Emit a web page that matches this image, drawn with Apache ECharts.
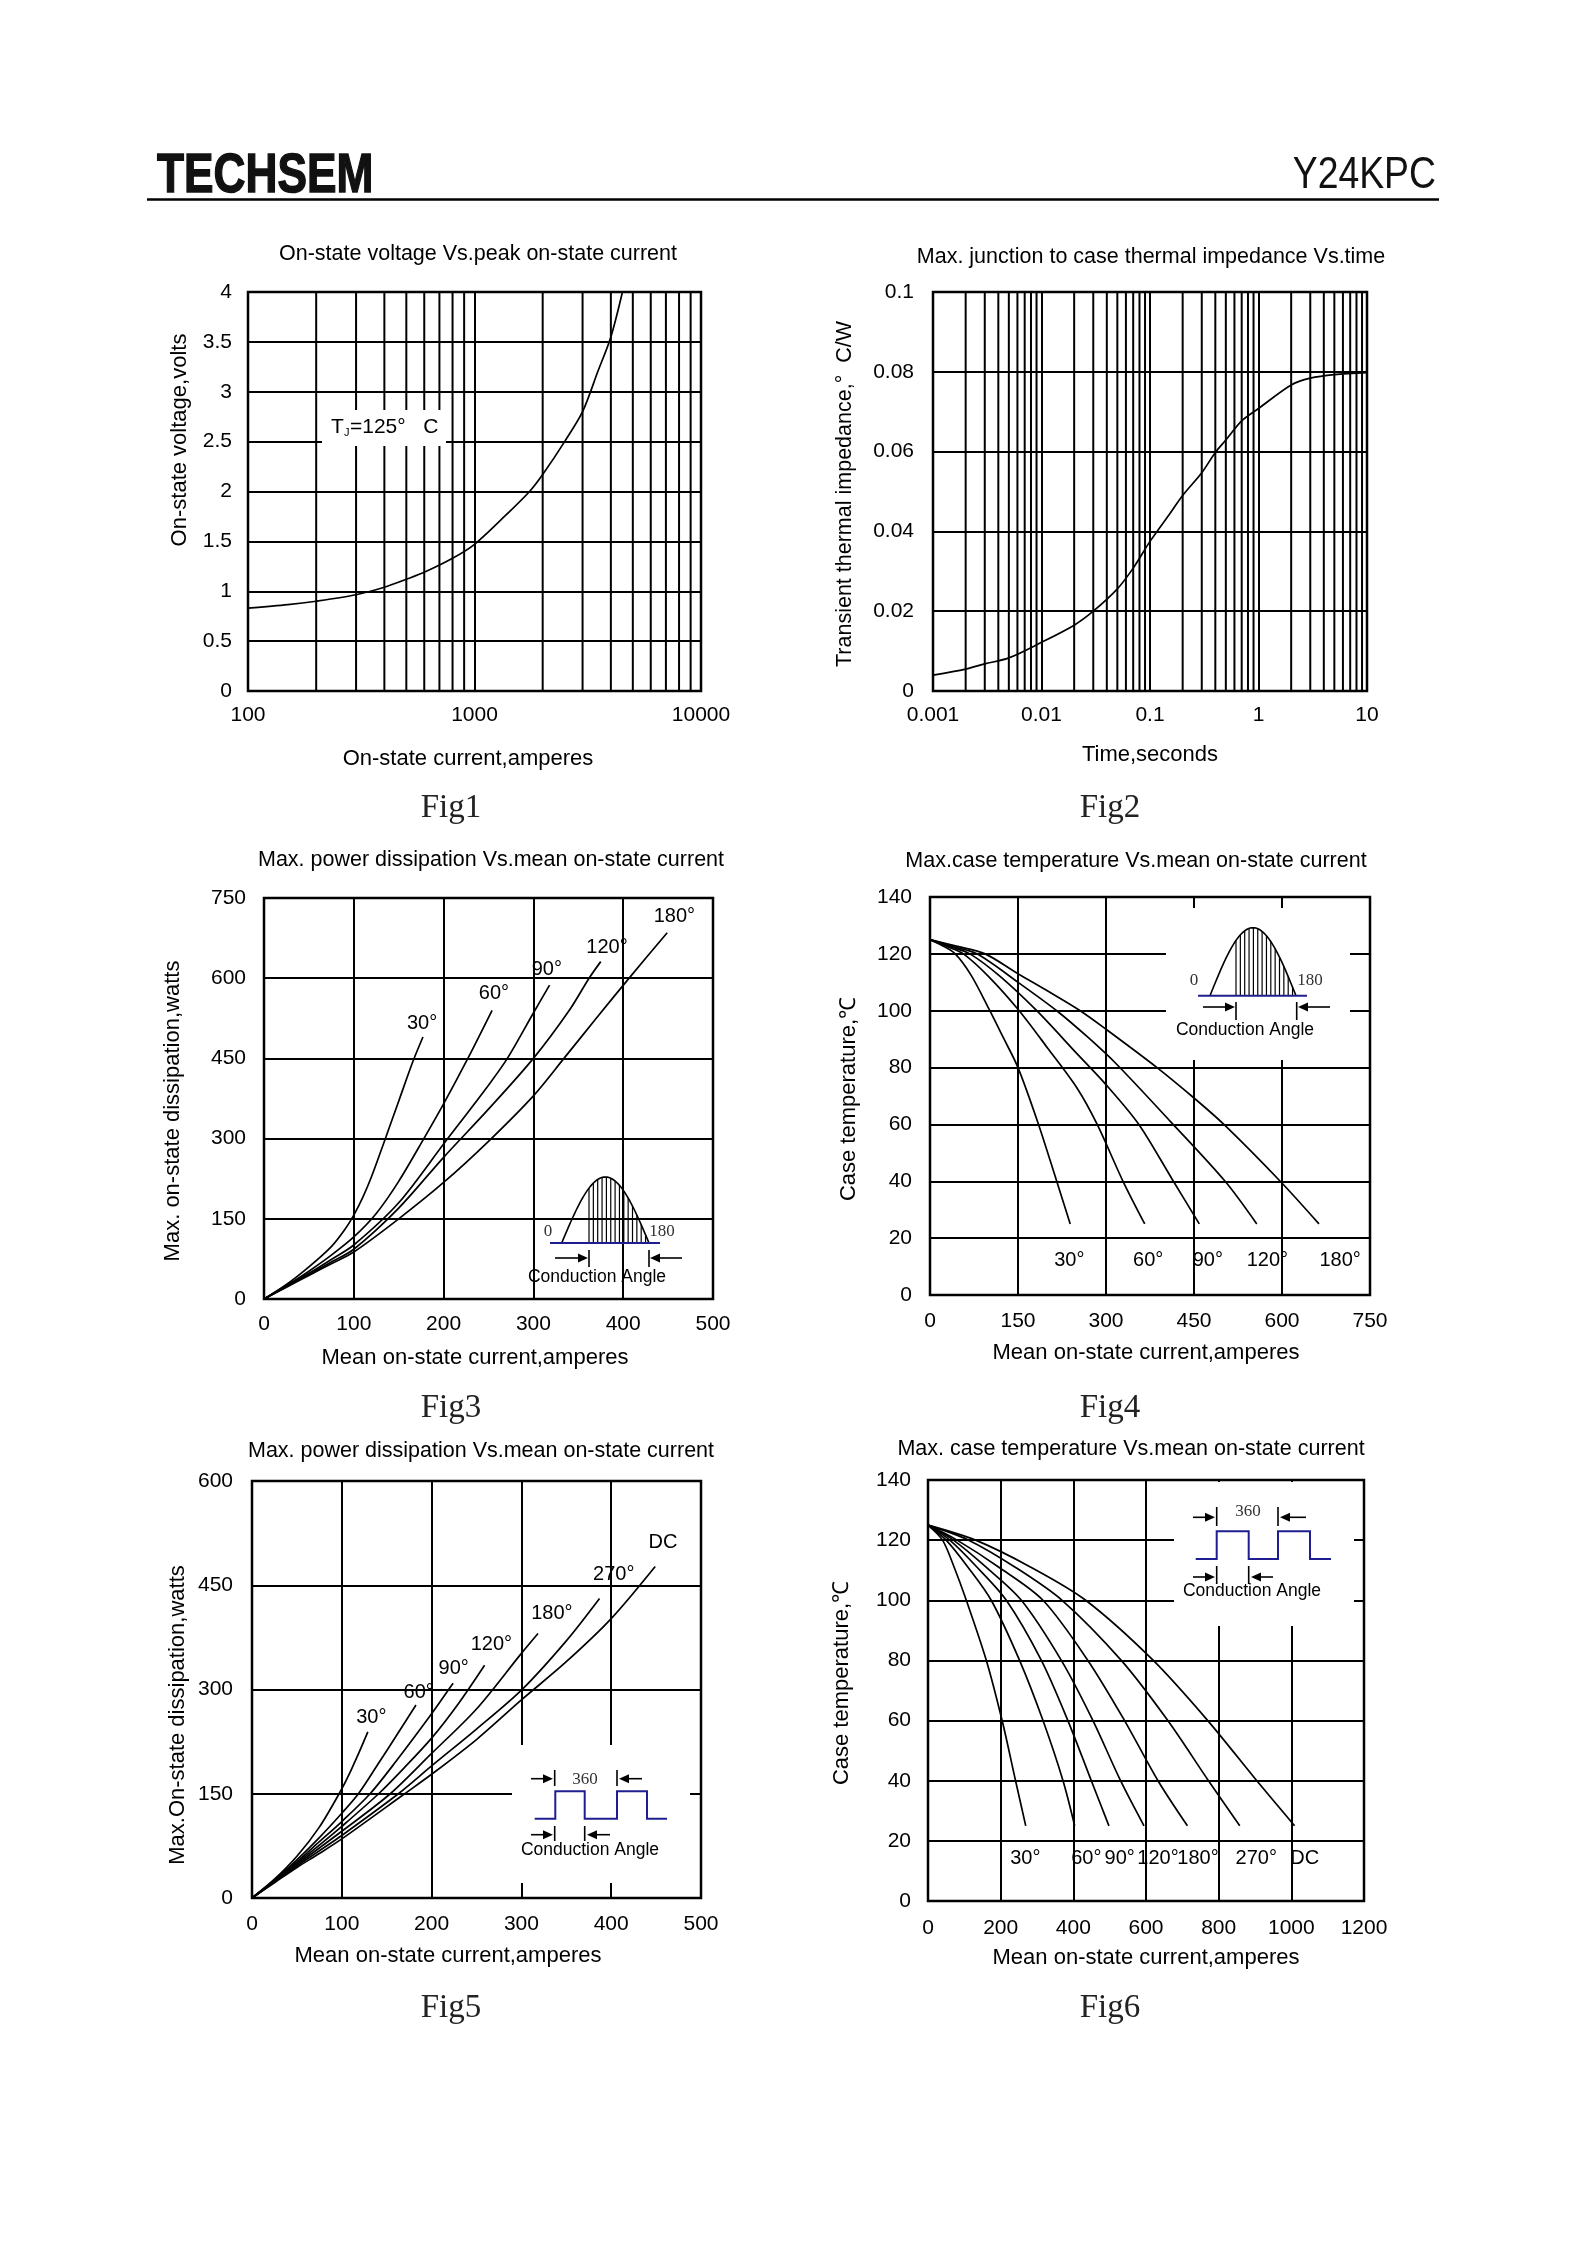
<!DOCTYPE html>
<html><head><meta charset="utf-8">
<script src="https://cdn.jsdelivr.net/npm/echarts/dist/echarts.min.js"></script>
<style>html,body{margin:0;padding:0;background:#fff}#c{width:1588px;height:2245px}</style>
</head><body><div id="c"></div>
<script>
// ---------------- DATA ----------------
// Fig1: on-state voltage vs peak current (log x)
const fig1Current = [100,150,200,300,400,500,600,800,1000,1400,1750,2000,2500,3000,3500,4000,4500];
const fig1Voltage = [0.83,0.865,0.9,0.965,1.04,1.12,1.19,1.33,1.47,1.78,2.0,2.17,2.5,2.8,3.2,3.55,4.0];
const fig1MinorTicks = [200,300,400,500,600,700,800,900,2000,3000,4000,5000,6000,7000,8000,9000];
// Fig2: transient thermal impedance vs time (log x)
const fig2Time = [0.001,0.002,0.003,0.005,0.01,0.02,0.03,0.05,0.07,0.1,0.15,0.2,0.3,0.4,0.5,0.7,1,2,3,5,10];
const fig2Z = [0.004,0.0055,0.0068,0.0083,0.0122,0.0165,0.020,0.0256,0.0308,0.0375,0.0442,0.049,0.0547,0.0598,0.0629,0.0677,0.0708,0.0767,0.0784,0.0793,0.0798];
const fig2MinorTicks = [0.002,0.003,0.004,0.005,0.006,0.007,0.008,0.009,0.02,0.03,0.04,0.05,0.06,0.07,0.08,0.09,0.2,0.3,0.4,0.5,0.6,0.7,0.8,0.9,2,3,4,5,6,7,8,9];
// Fig3: power dissipation vs mean current (sine)
const fig3Names = ['30°','60°','90°','120°','180°'];
const fig3_30  = [[0,0],[25,27],[50,60],[75,98],[90,130],[100,157],[110,190],[120,230],[133,290],[150,370],[166,445],[177,490]];
const fig3_60  = [[0,0],[25,25],[50,52],[75,82],[100,116],[125,160],[150,220],[178,300],[200,365],[227,450],[254,540]];
const fig3_90  = [[0,0],[25,24],[50,48],[75,74],[100,101],[150,180],[200,290],[250,400],[271,450],[300,535],[318,587]];
const fig3_120 = [[0,0],[25,23],[50,46],[75,69],[100,93],[150,170],[200,265],[250,355],[300,450],[340,540],[362,600],[375,631]];
const fig3_180 = [[0,0],[25,22],[50,44],[75,66],[100,88],[150,150],[200,218],[250,295],[300,380],[334,450],[370,525],[408,603],[449,685]];
// Fig4: case temperature vs mean current (sine)
const fig4Names = ['30°','60°','90°','120°','180°'];
const fig4_30  = [[0,125],[20,123],[43,120],[70,112.5],[102,100],[125,90.5],[150,80],[185,60],[216,40],[239,25]];
const fig4_60  = [[0,125],[30,122.5],[57,120],[100,112],[152,100],[200,87],[250,73],[285,60],[329,40],[366,25]];
const fig4_90  = [[0,125],[35,122.5],[68,120],[120,112],[182,100],[250,85],[300,74],[356,60],[412,41],[459,25]];
const fig4_120 = [[0,125],[40,122.5],[80,120],[150,110],[216,100],[270,90.5],[319,81],[410,61],[503,40],[557,25]];
const fig4_180 = [[0,125],[45,122.7],[94,120],[150,113],[200,107],[256,100],[300,93.5],[387,80],[450,69.3],[501,60],[597,40],[663,25]];
// Fig5: power dissipation vs mean current (rectangular)
const fig5Names = ['30°','60°','90°','120°','180°','270°','DC'];
const fig5_30  = [[0,0],[25,27],[50,60],[75,102],[97,150],[110,183],[129,239]];
const fig5_60  = [[0,0],[25,26],[50,55],[75,87],[100,122],[118.5,150],[140,192],[160,232],[182.6,277.6]];
const fig5_90  = [[0,0],[25,25],[50,52],[75,81],[100,110],[131.5,150],[160,196],[200,265],[219,300],[224,309]];
const fig5_120 = [[0,0],[25,24.5],[50,50],[75,76],[100,103],[141,150],[170,188],[200,230],[230,280],[259,335]];
const fig5_180 = [[0,0],[25,24],[50,48],[75,72],[100,96],[154,150],[200,208],[250,272],[300,352],[318.5,380.6]];
const fig5_270 = [[0,0],[25,23],[50,46],[75,68],[100,90],[163,150],[200,190],[250,243],[300,299],[350,370],[387,431]];
const fig5_dc  = [[0,0],[25,22],[50,44],[75,64],[100,85],[170,150],[200,178],[250,228],[300,285],[350,340],[400,402],[449,477]];
// Fig6: case temperature vs mean current (rectangular)
const fig6Names = ['30°','60°','90°','120°','180°','270°','DC'];
const fig6_30  = [[0,125],[40,120],[72,111],[105.5,100],[160.6,80],[204,60],[241,40],[269,25]];
const fig6_60  = [[0,125],[50,120],[110,111],[174,100],[252,80],[316.5,60],[371.6,40],[403.7,25]];
const fig6_90  = [[0,125],[60,120],[135,111],[215.6,100],[312,80],[385,60],[449.5,40],[498,25]];
const fig6_120 = [[0,125],[70,120],[160,111],[257,100],[367,80],[454,60],[530,40],[594.5,25]];
const fig6_180 = [[0,125],[80,120],[195,111],[316.5,100],[440,80],[541,60],[633,40],[714,25]];
const fig6_270 = [[0,125],[112,120],[240,111],[369,100],[532,80],[660,60],[772,40],[858,25]];
const fig6_dc  = [[0,125],[131,120],[283,111],[434,100],[620,80],[770,60],[905,40],[1009,25]];

// ---------------- LAYOUT / STYLE ----------------
const FONT = '"Liberation Sans", Arial, Helvetica, sans-serif';
const SERIF = '"Liberation Serif", "Times New Roman", serif';
const NAVY = '#1e1e8e';
const TICK = 21, NAME = 22, TITLE = 21.5;

const grids = [
  {left:248, top:292, width:453, height:399},
  {left:933, top:292, width:434, height:399},
  {left:264, top:898, width:449, height:401},
  {left:930, top:897, width:440, height:398},
  {left:252, top:1481, width:449, height:417},
  {left:928, top:1480, width:436, height:421}
].map(g => Object.assign({show:true, borderColor:'#000', borderWidth:2.5, backgroundColor:'transparent', containLabel:false}, g));

const plainFmt = v => String(v);
const logFmt = v => String(Number(Number(v).toPrecision(3)));
function axis(i, margin, extra, fmt) {
  return Object.assign({
    gridIndex:i,
    axisLine:{show:false}, axisTick:{show:false},
    splitLine:{show:true, lineStyle:{color:'#000', width:2}},
    axisLabel:{color:'#000', fontSize:TICK, fontFamily:FONT, margin:margin, formatter:fmt || plainFmt}
  }, extra);
}
const xAxis = [
  axis(0, 14, {type:'log', logBase:10, min:100, max:10000}, logFmt),
  axis(1, 14, {type:'log', logBase:10, min:0.001, max:10}, logFmt),
  axis(2, 15, {type:'value', min:0, max:500, interval:100}),
  axis(3, 16, {type:'value', min:0, max:750, interval:150}),
  axis(4, 16, {type:'value', min:0, max:500, interval:100}),
  axis(5, 17, {type:'value', min:0, max:1200, interval:200})
];
const yAxis = [
  axis(0, 16, {type:'value', min:0, max:4, interval:0.5}),
  axis(1, 19, {type:'value', min:0, max:0.1, interval:0.02}, v => String(Math.round(v*100)/100)),
  axis(2, 18, {type:'value', min:0, max:750, interval:150}),
  axis(3, 18, {type:'value', min:0, max:140, interval:20}),
  axis(4, 19, {type:'value', min:0, max:600, interval:150}),
  axis(5, 17, {type:'value', min:0, max:140, interval:20})
];

const zip = (a,b) => a.map((v,i) => [v, b[i]]);
function curve(idx, data, name, labelCoord) {
  const s = {
    type:'line', name:name, xAxisIndex:idx, yAxisIndex:idx, data:data,
    smooth:0.3, symbol:'none', silent:true, z:3,
    lineStyle:{color:'#000', width:1.7}
  };
  if (labelCoord) {
    s.markPoint = {
      symbol:'circle', symbolSize:1, silent:true, itemStyle:{color:'rgba(0,0,0,0)'},
      label:{show:true, position:'inside', color:'#000', fontSize:20, fontFamily:FONT, formatter:'{b}'},
      data:[{name:name, coord:labelCoord}]
    };
  }
  return s;
}
// minor (2..9) grid lines of the log axes, drawn as vertical segments through the axis scale
function minorLine(idx, v, yMin, yMax) {
  return {type:'line', xAxisIndex:idx, yAxisIndex:idx, data:[[v,yMin],[v,yMax]], symbol:'none', silent:true, z:1,
    lineStyle:{color:'#000', width:2}};
}

const fig3Label = [[176,516],[256,572],[315,617],[382,658],[457,716]];
const fig4Label = [[237.4,12],[372,12],[473.5,12],[575,12],[699,12]];
const fig5Label = [[132.9,260],[185.6,295],[224.6,330],[266.5,364.5],[334,410],[402.8,466],[457.7,511.8]];
const fig6Label = [[268,14],[435.7,14],[527.6,14],[633,14],[743,14],[903.6,14],[1037,14]];

const series = [];
fig1MinorTicks.forEach(v => series.push(minorLine(0, v, 0, 4)));
fig2MinorTicks.forEach(v => series.push(minorLine(1, v, 0, 0.1)));
series.push(curve(0, zip(fig1Current, fig1Voltage), 'Vt', null));
series.push(curve(1, zip(fig2Time, fig2Z), 'Zth', null));
[fig3_30,fig3_60,fig3_90,fig3_120,fig3_180].forEach((d,i) => series.push(curve(2, d, fig3Names[i], fig3Label[i])));
[fig4_30,fig4_60,fig4_90,fig4_120,fig4_180].forEach((d,i) => series.push(curve(3, d, fig4Names[i], fig4Label[i])));
[fig5_30,fig5_60,fig5_90,fig5_120,fig5_180,fig5_270,fig5_dc].forEach((d,i) => series.push(curve(4, d, fig5Names[i], fig5Label[i])));
[fig6_30,fig6_60,fig6_90,fig6_120,fig6_180,fig6_270,fig6_dc].forEach((d,i) => series.push(curve(5, d, fig6Names[i], fig6Label[i])));

// ---------------- GRAPHIC (texts & insets) ----------------
function T(x, y, text, size, o) {
  o = o || {};
  const al = o.align || 'center', va = o.va || 'middle';
  return { type:'text', x:x, y:y, rotation:o.rot || 0, scaleX:o.sx || 1, z:o.z || 60, silent:true,
    style:{ text:text, font:(o.weight || 'normal') + ' ' + size + 'px ' + (o.family || FONT),
      fill:o.color || '#000', stroke:o.stroke || null, lineWidth:o.lw || 0,
      align:al, verticalAlign:va, textAlign:al, textVerticalAlign:va } };
}
function L(x1,y1,x2,y2,color,w,z) {
  return {type:'line', silent:true, z:z || 60, shape:{x1:x1,y1:y1,x2:x2,y2:y2}, style:{stroke:color || '#000', lineWidth:w || 1.6}};
}
function R(x,y,w,h) {
  return {type:'rect', silent:true, z:20, shape:{x:x,y:y,width:w,height:h}, style:{fill:'#fff'}};
}
function arrow(xTail, xHead, y) {
  const d = xHead > xTail ? 1 : -1;
  return [L(xTail, y, xHead - d*6, y, '#000', 1.6),
    {type:'polygon', silent:true, z:60, shape:{points:[[xHead,y],[xHead-d*10,y-4.5],[xHead-d*10,y+4.5]]}, style:{fill:'#000'}}];
}
function sineInset(x0, x1, base, h, hs, he, step, bl0, bl1) {
  const out = [];
  const pts = [];
  for (let i = 0; i <= 48; i++) pts.push([x0 + (x1-x0)*i/48, base - h*Math.sin(Math.PI*i/48)]);
  out.push({type:'polyline', silent:true, z:60, shape:{points:pts}, style:{stroke:'#000', lineWidth:1.6, fill:null}});
  for (let x = hs; x <= he + 0.01; x += step) {
    const y = base - h*Math.sin(Math.PI*(x-x0)/(x1-x0));
    out.push(L(x, base, x, y, '#000', 1.2));
  }
  out.push(L(bl0, base, bl1, base, NAVY, 2, 61));
  return out;
}
function squareInset(xs, low, high, xEnd) {
  const p = [[xs[0], low]];
  p.push([xs[1], low],[xs[1], high],[xs[2], high],[xs[2], low],[xs[3], low],[xs[3], high],[xs[4], high],[xs[4], low],[xEnd, low]);
  return {type:'polyline', silent:true, z:60, shape:{points:p}, style:{stroke:NAVY, lineWidth:2, fill:null}};
}

const graphic = [];
// header
graphic.push(T(157, 177, 'TECHSEM', 55, {align:'left', weight:'bold', sx:0.805, color:'#111', stroke:'#111', lw:1.4}));
graphic.push(T(1436, 176, 'Y24KPC', 45, {align:'right', sx:0.83, color:'#111'}));
graphic.push(L(147, 199.5, 1439, 199.5, '#000', 2.5));

// titles
graphic.push(T(478, 254, 'On-state voltage Vs.peak on-state current', TITLE));
graphic.push(T(1151, 257, 'Max. junction to case thermal impedance Vs.time', TITLE));
graphic.push(T(491, 860, 'Max. power dissipation Vs.mean on-state current', TITLE));
graphic.push(T(1136, 861, 'Max.case temperature Vs.mean on-state current', TITLE));
graphic.push(T(481, 1451, 'Max. power dissipation Vs.mean on-state current', TITLE));
graphic.push(T(1131, 1449, 'Max. case temperature Vs.mean on-state current', TITLE));

// axis names
const ROT = Math.PI/2;
graphic.push(T(180, 440, 'On-state voltage,volts', NAME, {rot:ROT}));
graphic.push(T(468, 759, 'On-state current,amperes', NAME));
graphic.push(T(845, 494, 'Transient thermal impedance,°  C/W', 21.5, {rot:ROT}));
graphic.push(T(1150, 755, 'Time,seconds', NAME));
graphic.push(T(173, 1111, 'Max. on-state dissipation,watts', NAME, {rot:ROT}));
graphic.push(T(475, 1358, 'Mean on-state current,amperes', NAME));
graphic.push(T(849, 1099, 'Case temperature,℃', NAME, {rot:ROT}));
graphic.push(T(1146, 1353, 'Mean on-state current,amperes', NAME));
graphic.push(T(178, 1715, 'Max.On-state dissipation,watts', NAME, {rot:ROT}));
graphic.push(T(448, 1956, 'Mean on-state current,amperes', NAME));
graphic.push(T(842, 1683, 'Case temperature,℃', NAME, {rot:ROT}));
graphic.push(T(1146, 1958, 'Mean on-state current,amperes', NAME));

// figure captions
[['Fig1',451,808],['Fig2',1110,808],['Fig3',451,1408],['Fig4',1110,1408],['Fig5',451,2008],['Fig6',1110,2008]]
  .forEach(f => graphic.push(T(f[1], f[2], f[0], 33, {family:SERIF, color:'#222'})));

// Fig1 Tj label
graphic.push(Object.assign(R(322, 410, 124, 36), {z:40}));
graphic.push(T(331, 427, 'T', 21, {align:'left', z:70}));
graphic.push(T(344, 433, 'J', 11, {align:'left', z:70}));
graphic.push(T(350, 427, '=125°   C', 21, {align:'left', z:70}));

// Fig3 inset (no white box)
sineInset(561.7, 649, 1243, 66, 589, 647, 4.35, 550, 660).forEach(e => graphic.push(e));
graphic.push(T(548, 1232, '0', 17, {family:SERIF, color:'#333'}));
graphic.push(T(662, 1232, '180', 17, {family:SERIF, color:'#333'}));
graphic.push(L(589, 1250, 589, 1267, '#000', 1.6));
graphic.push(L(649, 1250, 649, 1267, '#000', 1.6));
arrow(555, 588, 1258).forEach(e => graphic.push(e));
arrow(682, 650, 1258).forEach(e => graphic.push(e));
graphic.push(T(597, 1277, 'Conduction Angle', 17.5));

// Fig4 inset
graphic.push(R(1166, 908, 184, 152));
sineInset(1210, 1296, 995.7, 68, 1236, 1294, 4.35, 1198, 1307).forEach(e => graphic.push(e));
graphic.push(T(1194, 981, '0', 17, {family:SERIF, color:'#333'}));
graphic.push(T(1310, 981, '180', 17, {family:SERIF, color:'#333'}));
graphic.push(L(1236, 1002, 1236, 1020, '#000', 1.6));
graphic.push(L(1296.7, 1002, 1296.7, 1020, '#000', 1.6));
arrow(1203, 1235, 1007).forEach(e => graphic.push(e));
arrow(1330, 1298, 1007).forEach(e => graphic.push(e));
graphic.push(T(1245, 1030, 'Conduction Angle', 17.5));

// Fig5 inset
graphic.push(R(512, 1745, 178, 138));
graphic.push(squareInset([534.7, 555.3, 584.7, 617, 647], 1818.7, 1791.3, 667));
graphic.push(T(585, 1780, '360', 17, {family:SERIF, color:'#333'}));
graphic.push(L(554.7, 1770, 554.7, 1786, '#000', 1.6));
graphic.push(L(617, 1770, 617, 1786, '#000', 1.6));
arrow(531, 553, 1778.7).forEach(e => graphic.push(e));
arrow(642, 619, 1778.7).forEach(e => graphic.push(e));
graphic.push(L(554.7, 1826, 554.7, 1841, '#000', 1.6));
graphic.push(L(584.7, 1826, 584.7, 1841, '#000', 1.6));
arrow(531, 553, 1834.7).forEach(e => graphic.push(e));
arrow(610, 587, 1834.7).forEach(e => graphic.push(e));
graphic.push(T(590, 1850, 'Conduction Angle', 17.5));

// Fig6 inset
graphic.push(R(1174, 1482, 180, 144));
graphic.push(squareInset([1195.7, 1216.7, 1248.7, 1278, 1310], 1559, 1531.3, 1331));
graphic.push(T(1248, 1512, '360', 17, {family:SERIF, color:'#333'}));
graphic.push(L(1216.7, 1507, 1216.7, 1526, '#000', 1.6));
graphic.push(L(1278, 1507, 1278, 1526, '#000', 1.6));
arrow(1193, 1215, 1517.3).forEach(e => graphic.push(e));
arrow(1306, 1280, 1517.3).forEach(e => graphic.push(e));
graphic.push(L(1216.7, 1566, 1216.7, 1584, '#000', 1.6));
graphic.push(L(1248.7, 1566, 1248.7, 1584, '#000', 1.6));
arrow(1193, 1215, 1577).forEach(e => graphic.push(e));
arrow(1273, 1251, 1577).forEach(e => graphic.push(e));
graphic.push(T(1252, 1591, 'Conduction Angle', 17.5));

const chart = echarts.init(document.getElementById('c'), null, {renderer:'canvas', width:1588, height:2245});
chart.setOption({
  animation:false,
  backgroundColor:'#fff',
  textStyle:{fontFamily:FONT},
  grid:grids, xAxis:xAxis, yAxis:yAxis, series:series, graphic:graphic
});
</script>
</body></html>
